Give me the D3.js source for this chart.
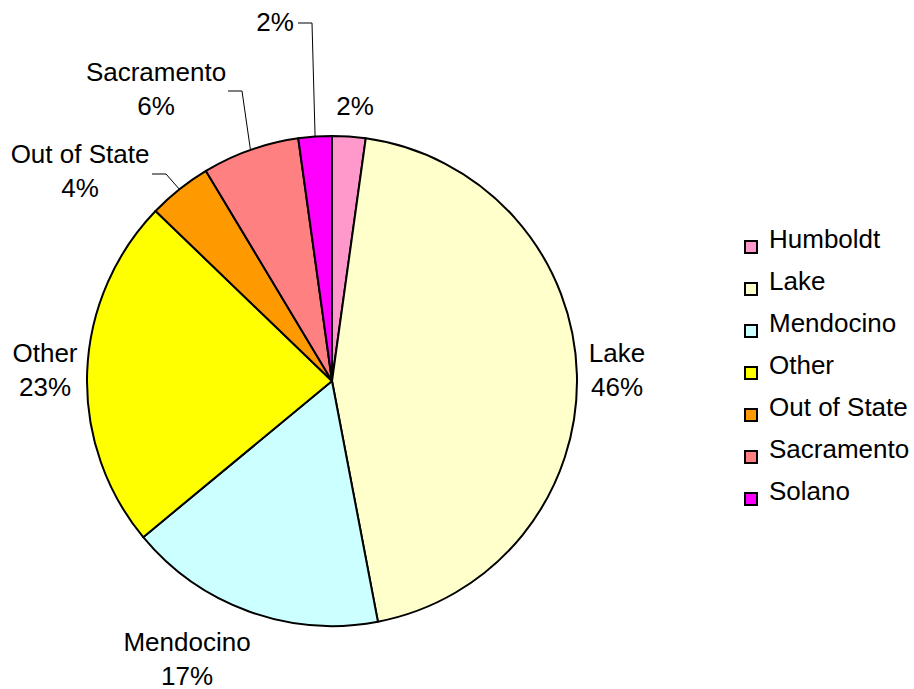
<!DOCTYPE html>
<html>
<head>
<meta charset="utf-8">
<script src="https://cdn.jsdelivr.net/npm/d3@7"></script>
<style>
  body { margin: 0; background: #fff; }
  text { font-family: Arial, "Liberation Sans", sans-serif; fill: #000; }
</style>
</head>
<body>
<div id="chart"></div>
<script>
// data
var categories = ['Humboldt', 'Lake', 'Mendocino', 'Other', 'Out of State', 'Sacramento', 'Solano'];
var shares     = [2.2, 44.8, 17.0, 23.2, 4.2, 6.4, 2.2];
var pctLabels  = ['2%', '46%', '17%', '23%', '4%', '6%', '2%'];
var colors     = ['#FF99CC', '#FFFFCC', '#CCFFFF', '#FFFF00', '#FF9900', '#FF8080', '#FF00FF'];

var width = 914, height = 689;
var cx = 332, cy = 381, radius = 245;
var fontSize = 26;

// where Excel put each label (x centre, baseline of first line), name shown or not, leader line or not
var labelLayout = {
  'Humboldt':     { x: 355, y: 115, showName: false, leader: false },
  'Lake':         { x: 617, y: 362, showName: true,  leader: false },
  'Mendocino':    { x: 187, y: 651, showName: true,  leader: false },
  'Other':        { x: 45,  y: 362, showName: true,  leader: false },
  'Out of State': { x: 80,  y: 163, showName: true,  leader: true, lx: 152, ly: 174 },
  'Sacramento':   { x: 156, y: 81,  showName: true,  leader: true, lx: 228, ly: 91 },
  'Solano':       { x: 275, y: 31,  showName: false, leader: true, lx: 298, ly: 23 }
};

var svg = d3.select('#chart')
  .append('svg')
  .attr('width', width)
  .attr('height', height);

var data = categories.map(function(c, i){
  return { name: c, value: shares[i], pct: pctLabels[i], color: colors[i] };
});

var pie = d3.pie()
  .sort(null)
  .value(function(d){ return d.value; });

var arc = d3.arc()
  .innerRadius(0)
  .outerRadius(radius);

var arcs = pie(data);

var g = svg.append('g')
  .attr('transform', 'translate(' + cx + ',' + cy + ')');

g.selectAll('path.slice')
  .data(arcs)
  .enter()
  .append('path')
  .attr('class', 'slice')
  .attr('d', arc)
  .attr('fill', function(d){ return d.data.color; })
  .attr('stroke', '#000')
  .attr('stroke-width', 2)
  .attr('stroke-linejoin', 'round');

// leader lines end on the rim at the middle of the slice
arcs.forEach(function(d){
  var lay = labelLayout[d.data.name];
  if(!lay.leader) return;
  var mid = (d.startAngle + d.endAngle) / 2;
  var ex = cx + Math.sin(mid) * radius;
  var ey = cy - Math.cos(mid) * radius;
  svg.append('polyline')
    .attr('points', [[lay.lx, lay.ly], [lay.lx + 14, lay.ly], [ex, ey]].map(function(p){ return p.join(','); }).join(' '))
    .attr('fill', 'none')
    .attr('stroke', '#000')
    .attr('stroke-width', 1);
});

// slice labels
arcs.forEach(function(d){
  var lay = labelLayout[d.data.name];
  var t = svg.append('text')
    .attr('text-anchor', 'middle')
    .style('font-size', fontSize + 'px');
  if(lay.showName){
    t.append('tspan').attr('x', lay.x).attr('y', lay.y).text(d.data.name);
    t.append('tspan').attr('x', lay.x).attr('y', lay.y + 34).text(d.data.pct);
  } else {
    t.append('tspan').attr('x', lay.x).attr('y', lay.y).text(d.data.pct);
  }
});

// legend
var legendY = d3.scalePoint()
  .domain(categories)
  .range([248, 500]);

var legend = svg.append('g');

var item = legend.selectAll('g.item')
  .data(data)
  .enter()
  .append('g')
  .attr('class', 'item')
  .attr('transform', function(d){ return 'translate(745,' + legendY(d.name) + ')'; });

item.append('rect')
  .attr('x', 0)
  .attr('y', -7)
  .attr('width', 12)
  .attr('height', 12)
  .attr('fill', function(d){ return d.color; })
  .attr('stroke', '#000')
  .attr('stroke-width', 2);

item.append('text')
  .attr('x', 24)
  .attr('y', 0)
  .style('font-size', fontSize + 'px')
  .text(function(d){ return d.name; });
</script>
</body>
</html>
